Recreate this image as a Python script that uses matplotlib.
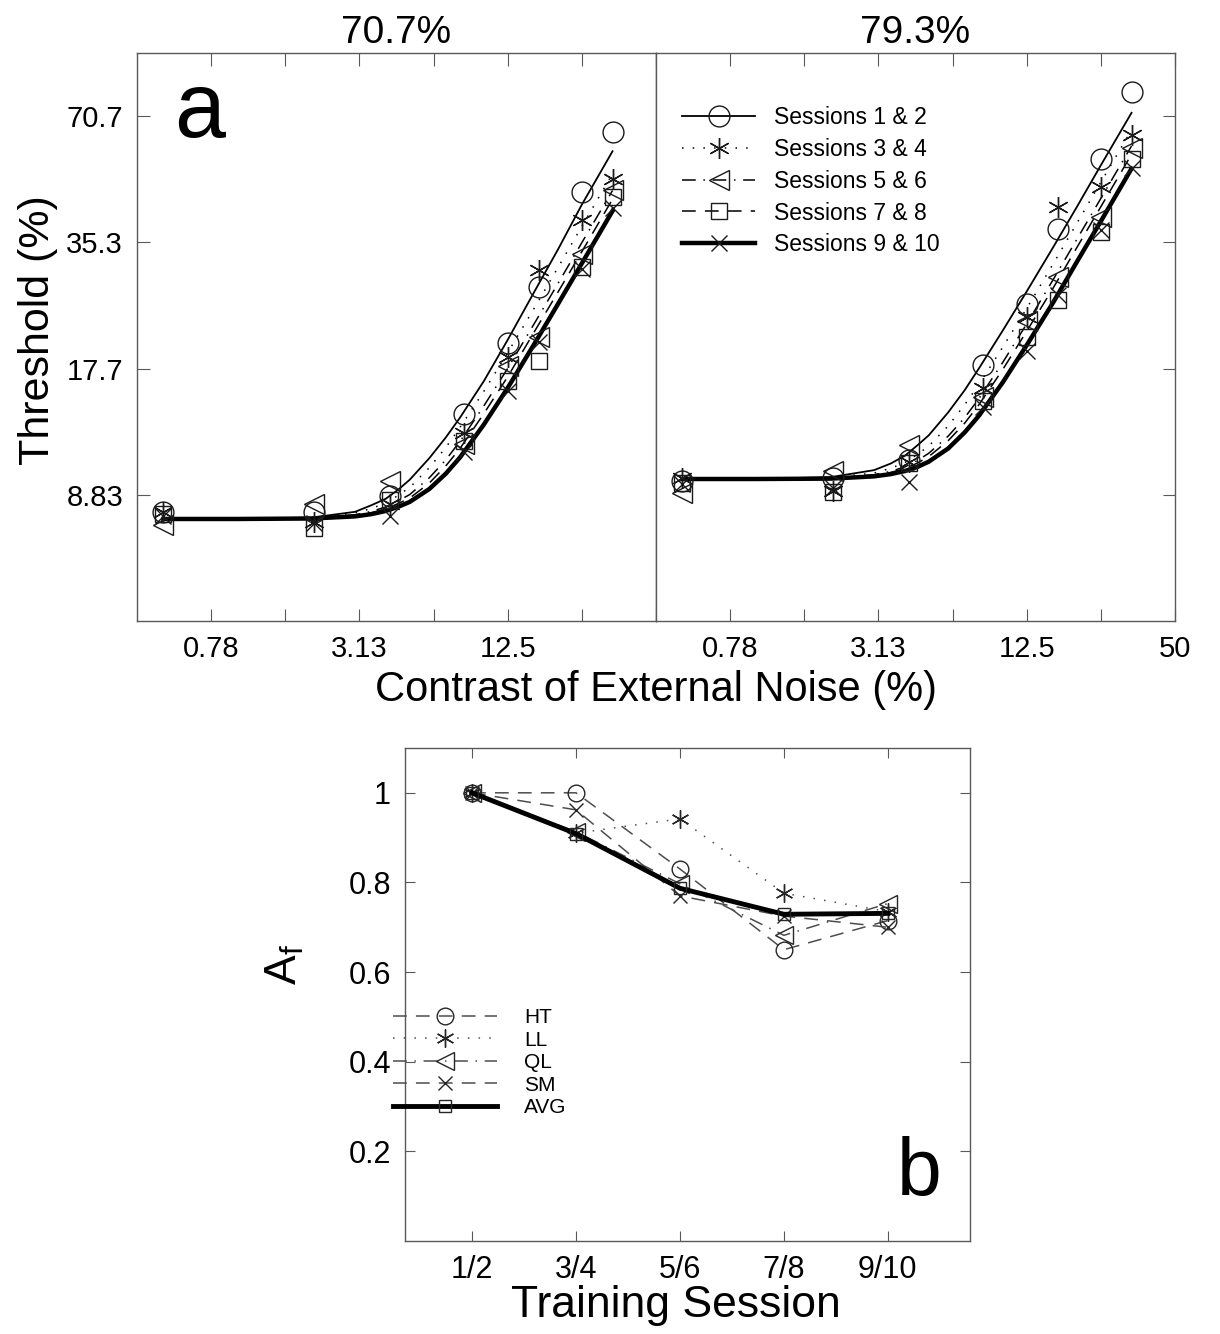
import matplotlib
matplotlib.use("Agg")
import matplotlib.pyplot as plt
from matplotlib.lines import Line2D
from matplotlib.ticker import NullLocator

plt.rcParams['font.family'] = ['Liberation Sans', 'DejaVu Sans']
plt.rcParams['mathtext.fontset'] = 'custom'
plt.rcParams['mathtext.rm'] = 'Liberation Sans'

# ---- panel a data: thresholds (%) vs external noise contrast (%)
noise = [0.5, 2.05, 4.15, 8.3, 12.5, 16.7, 25, 33.3]
sessions = ["Sessions 1 & 2", "Sessions 3 & 4", "Sessions 5 & 6",
            "Sessions 7 & 8", "Sessions 9 & 10"]

thr_707_s12 = [8.05, 8.05, 8.78, 13.8, 20.3, 27.6, 46.6, 64.8]
thr_707_s34 = [8.05, 7.62, 8.4, 12.4, 18.8, 30.3, 39.9, 50.2]
thr_707_s56 = [7.47, 8.4, 9.54, 11.7, 17.9, 21.0, 33.1, 47.0]
thr_707_s78 = [7.95, 7.35, 8.6, 11.9, 16.5, 18.4, 30.8, 45.3]
thr_707_s910 = [7.85, 7.55, 7.85, 11.2, 15.6, 20.4, 30.5, 42.6]

thr_793_s12 = [9.55, 9.7, 10.7, 18.0, 25.2, 38.1, 56.0, 80.7]
thr_793_s34 = [9.7, 9.03, 10.6, 15.9, 23.4, 42.9, 47.9, 63.6]
thr_793_s56 = [8.94, 10.1, 11.6, 15.1, 23.0, 29.2, 40.6, 59.3]
thr_793_s78 = [9.45, 9.0, 10.5, 14.8, 21.0, 25.7, 37.4, 56.0]
thr_793_s910 = [9.4, 9.2, 9.5, 14.3, 19.5, 26.5, 37.8, 53.1]

# fitted curves
fit_x = [0.5, 1, 2, 3, 3.5, 4, 4.5, 5, 6, 7, 8, 10, 12.5, 16, 20, 25, 33.3]
fit_707_s12 = [7.74, 7.75, 7.8, 8.05, 8.35, 8.65, 9.1, 9.6, 10.8, 12.1, 13.5, 16.5, 20.7, 26.9, 34.0, 43.5, 58.3]
fit_707_s34 = [7.74, 7.74, 7.79, 8.0, 8.2, 8.45, 8.82, 9.2, 10.25, 11.45, 12.8, 15.6, 19.3, 24.6, 30.8, 38.6, 51.5]
fit_707_s56 = [7.74, 7.74, 7.78, 7.92, 8.07, 8.27, 8.55, 8.85, 9.7, 10.7, 11.85, 14.4, 17.7, 22.6, 28.2, 35.3, 47.0]
fit_707_s78 = [7.74, 7.74, 7.77, 7.89, 8.01, 8.18, 8.43, 8.68, 9.42, 10.35, 11.4, 13.8, 16.9, 21.6, 26.9, 33.6, 44.8]
fit_707_s910 = [7.74, 7.74, 7.76, 7.85, 7.95, 8.09, 8.28, 8.5, 9.12, 9.92, 10.85, 13.0, 15.9, 20.2, 25.2, 31.5, 42.0]

fit_793_s12 = [9.64, 9.64, 9.74, 10.12, 10.49, 10.95, 11.6, 12.25, 13.9, 15.7, 17.7, 21.8, 27.0, 34.4, 43.0, 54.0, 72.0]
fit_793_s34 = [9.64, 9.64, 9.71, 9.96, 10.22, 10.55, 11.03, 11.55, 12.9, 14.5, 16.2, 19.9, 24.6, 31.4, 39.3, 49.2, 65.5]
fit_793_s56 = [9.64, 9.64, 9.69, 9.87, 10.05, 10.3, 10.67, 11.1, 12.2, 13.5, 15.0, 18.3, 22.6, 28.8, 36.0, 45.0, 60.0]
fit_793_s78 = [9.64, 9.64, 9.68, 9.83, 9.99, 10.2, 10.52, 10.9, 11.9, 13.1, 14.5, 17.6, 21.7, 27.5, 34.4, 43.0, 57.3]
fit_793_s910 = [9.64, 9.64, 9.66, 9.78, 9.9, 10.07, 10.3, 10.6, 11.4, 12.45, 13.65, 16.4, 20.1, 25.4, 31.8, 39.7, 53.0]

x_ticks = [0.78125, 1.5625, 3.125, 6.25, 12.5, 25, 50]
x_labels_a = ["0.78", "", "3.13", "", "12.5", "", ""]
x_labels_b = ["0.78", "", "3.13", "", "12.5", "", "50"]
y_ticks = [8.8388, 17.678, 35.355, 70.711]
y_labels = ["8.83", "17.7", "35.3", "70.7"]

# ---- panel b data: Af per training session
train_labels = ["1/2", "3/4", "5/6", "7/8", "9/10"]
train_idx = [1, 2, 3, 4, 5]
af_ht = [1.0, 1.0, 0.83, 0.65, 0.715]
af_ll = [1.0, 0.91, 0.942, 0.776, 0.735]
af_ql = [1.0, 0.913, 0.797, 0.682, 0.753]
af_sm = [1.0, 0.962, 0.77, 0.725, 0.70]
af_avg = [1.0, 0.909, 0.787, 0.729, 0.731]

# styles
dotted = (0, (1, 6))
dashdot = (0, (9, 5, 1, 5))
dashed = (0, (9, 6))
sess_styles = [
    dict(ls='-', lw=1.3, marker='o', ms=15),
    dict(ls=dotted, lw=1.1, marker=(6, 2, 0), ms=15),
    dict(ls=dashdot, lw=1.1, marker='<', ms=15),
    dict(ls=dashed, lw=1.1, marker='s', ms=11),
    dict(ls='-', lw=3.2, marker='x', ms=12),
]

fig = plt.figure(figsize=(12.2, 13.34), dpi=100)
axL = fig.add_axes([137 / 1220, 1 - 621 / 1334, 519 / 1220, 568 / 1334])
axR = fig.add_axes([656 / 1220, 1 - 621 / 1334, 519 / 1220, 568 / 1334])

panels = [
    (axL, [thr_707_s12, thr_707_s34, thr_707_s56, thr_707_s78, thr_707_s910],
     [fit_707_s12, fit_707_s34, fit_707_s56, fit_707_s78, fit_707_s910], "70.7%", x_labels_a),
    (axR, [thr_793_s12, thr_793_s34, thr_793_s56, thr_793_s78, thr_793_s910],
     [fit_793_s12, fit_793_s34, fit_793_s56, fit_793_s78, fit_793_s910], "79.3%", x_labels_b),
]

for ax, thr, fits, title, xl in panels:
    for st, fy in zip(sess_styles, fits):
        ax.plot(fit_x, fy, color='k', ls=st['ls'], lw=st['lw'])
    for st, ty in zip(sess_styles, thr):
        ax.plot(noise, ty, ls='none', marker=st['marker'], ms=st['ms'],
                mfc='none', mec='0.1', mew=1.0)
    ax.set_xscale('log', base=2)
    ax.set_yscale('log', base=2)
    ax.set_xlim(0.390625, 50)
    ax.set_ylim(4.42, 100)
    ax.set_xticks(x_ticks)
    ax.set_xticklabels(xl, fontsize=21)
    ax.set_yticks(y_ticks)
    ax.xaxis.set_minor_locator(NullLocator())
    ax.yaxis.set_minor_locator(NullLocator())
    ax.set_title(title, fontsize=28, pad=7)
    for s in ax.spines.values():
        s.set_color('0.35')
        s.set_linewidth(1.0)

axL.set_yticklabels(y_labels, fontsize=21)
axL.tick_params(which='both', direction='in', length=9, top=True, right=False,
                color='0.35', pad=10)
axR.set_yticklabels([])
axR.tick_params(which='both', direction='in', length=9, top=True, left=False,
                right=True, labelleft=False, color='0.35', pad=10)

axL.text(0.12, 0.852, "a", transform=axL.transAxes, fontsize=66,
         ha='center', va='baseline')

sess_handles = [Line2D([0], [0], color='k', ls=st['ls'], lw=st['lw'],
                       marker=st['marker'], ms=st['ms'], mfc='none',
                       mec='0.1', mew=1.0) for st in sess_styles]
axR.legend(sess_handles, sessions, loc='upper left',
           bbox_to_anchor=(0.05, 0.906), frameon=False, fontsize=16.5,
           handlelength=3.2, handletextpad=0.8, labelspacing=0.38,
           borderpad=0, borderaxespad=0, numpoints=1)

fig.text(656 / 1220, 1 - 690 / 1334, "Contrast of External Noise (%)",
         fontsize=30, ha='center', va='center')
fig.text(38 / 1220, 1 - 330 / 1334, "Threshold (%)", fontsize=31,
         ha='center', va='center', rotation=90)

# ---- panel b
axB = fig.add_axes([405 / 1220, 1 - 1241 / 1334, 565 / 1220, 493 / 1334])
b_series = [
    (af_ht, dict(ls=dashed, lw=1.1, marker='o', ms=12, color='0.3')),
    (af_ll, dict(ls=dotted, lw=1.1, marker=(6, 2, 0), ms=13, color='0.3')),
    (af_ql, dict(ls=dashdot, lw=1.1, marker='<', ms=13, color='0.3')),
    (af_sm, dict(ls=dashed, lw=1.1, marker='x', ms=10, color='0.3')),
    (af_avg, dict(ls='-', lw=3.5, marker='s', ms=8, color='k')),
]
b_handles = []
for vals, st in b_series:
    line, = axB.plot(train_idx, vals, mfc='none', mec='0.15', mew=1.0, **st)
    b_handles.append(line)

axB.set_xlim(0.355, 5.79)
axB.set_ylim(0, 1.1)
axB.set_xticks(train_idx)
axB.set_xticklabels(train_labels, fontsize=22)
axB.set_yticks([0.2, 0.4, 0.6, 0.8, 1.0])
axB.set_yticklabels(["0.2", "0.4", "0.6", "0.8", "1"], fontsize=22)
axB.tick_params(direction='in', length=7, top=True, right=True,
                color='0.35', pad=10)
for s in axB.spines.values():
    s.set_color('0.35')
    s.set_linewidth(1.0)
axB.text(0.91, 0.093, "b", transform=axB.transAxes, fontsize=58,
         ha='center', va='baseline')

fig.legend(b_handles, ["HT", "LL", "QL", "SM", "AVG"], loc='upper left',
           bbox_to_anchor=(393 / 1220, 1 - 1008 / 1334), frameon=False,
           fontsize=15, handlelength=5.0, handletextpad=1.3, labelspacing=0.17,
           borderpad=0, borderaxespad=0, numpoints=1)

fig.text(676 / 1220, 1 - 1305 / 1334, "Training Session", fontsize=32,
         ha='center', va='center')
fig.text(285 / 1220, 1 - 965 / 1334, r"A$_\mathregular{f}$", fontsize=32,
         ha='center', va='center', rotation=90)

fig.savefig("out.png", dpi=100, facecolor='white')
